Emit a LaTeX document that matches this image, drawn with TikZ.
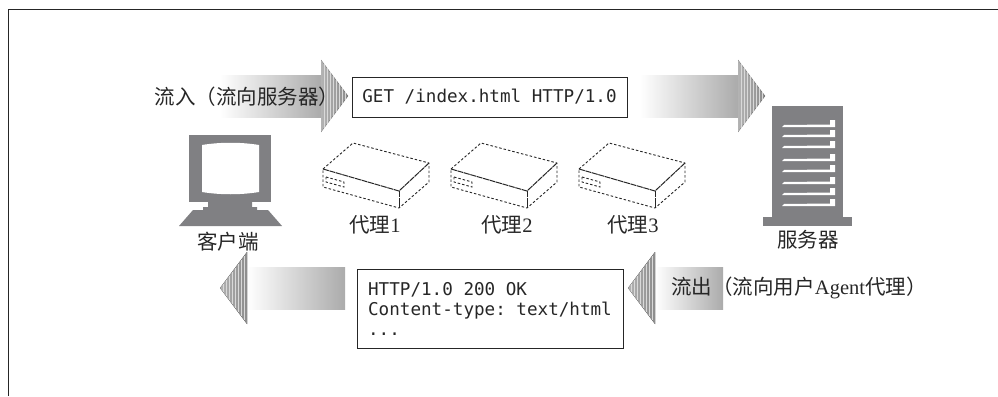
\documentclass[tikz,border=0pt]{standalone}
\usepackage{fontspec}
\setmainfont{Liberation Serif}
\setmonofont{DejaVu Sans Mono}
\newfontfamily\cjk{Noto Sans CJK SC}
\tikzset{
    flowbody/.style={left color=white, right color=black!33, draw=none},
    flowhead/.style={left color=black!30, right color=black!45, draw=none},
    stripe/.style={black!15, line width=0.6pt},
    label/.style={font=\fontsize{20.5}{22}\selectfont\color{black!85}, inner sep=0pt},
    msgbox/.style={draw=black!85, line width=1pt, inner sep=0pt, font=\ttfamily\fontsize{17.6}{20}\selectfont\color{black!85}},
    proxyline/.style={black!85, line width=0.9pt, dash pattern=on 2.5pt off 2pt},
    proxyedge/.style={black!85, line width=1pt, dash pattern=on 6pt off 0.7pt},
}
\definecolor{machine}{HTML}{808083}
\begin{document}
\begin{tikzpicture}[x=1pt,y=-1pt]
    \useasboundingbox (0,0) rectangle (998,396);
    \draw[black!85, line width=1pt] (8,396) -- (8,10) -- (998,10);

\begin{scope}[shift={(321,96)}]
    \fill[flowbody] (-101,-21) rectangle (0,21);
    \fill[flowhead] (0,-36) -- (27,0) -- (0,36) -- cycle;
    \foreach \x in {3,6,...,24} \draw[stripe] (\x,{-36+36*\x/27}) -- (\x,{36-36*\x/27});
\end{scope}
\begin{scope}[shift={(738,96)}]
    \fill[flowbody] (-98,-21) rectangle (0,21);
    \fill[flowhead] (0,-36) -- (27,0) -- (0,36) -- cycle;
    \foreach \x in {3,6,...,24} \draw[stripe] (\x,{-36+36*\x/27}) -- (\x,{36-36*\x/27});
\end{scope}
\begin{scope}[shift={(247,288)},xscale=-1]
    \fill[flowbody] (-98,-21) rectangle (0,21);
    \fill[flowhead] (0,-36) -- (27,0) -- (0,36) -- cycle;
    \foreach \x in {3,6,...,24} \draw[stripe] (\x,{-36+36*\x/27}) -- (\x,{36-36*\x/27});
\end{scope}
\begin{scope}[shift={(655,288)},xscale=-1]
    \fill[flowbody] (-68,-21) rectangle (0,21);
    \fill[flowhead] (0,-36) -- (27,0) -- (0,36) -- cycle;
    \foreach \x in {3,6,...,24} \draw[stripe] (\x,{-36+36*\x/27}) -- (\x,{36-36*\x/27});
\end{scope}

    \node[msgbox, minimum width=275pt, minimum height=40pt] (request) at (489.5,97) {GET /index.html HTTP/1.0};
    \node[msgbox, minimum width=266pt, minimum height=79pt, align=left] (response) at (490,308.5) {HTTP/1.0 200 OK\\Content-type: text/html\\...};

    \node[label] (inflow) at (247,97) {\cjk 流入（流向服务器）};
    \node[label] (outflow) at (799,288) {\cjk 流出（流向用户\rmfamily Agent\cjk 代理）};

    % client
    \fill[machine] (189,135) rectangle (271,202);
    \fill[white] (202,145) .. controls (220,142) and (241,142) .. (259,145) -- (259,192) .. controls (241,195) and (220,195) .. (202,192) -- cycle;
    \fill[machine] (208,202) -- (208,207) -- (203,207) -- (203,210) -- (193,210) -- (179,226) -- (282,226) -- (268,210) -- (257,210) -- (257,207) -- (252,207) -- (252,202) -- cycle;
    \node[label] (client) at (228,242) {\cjk 客户端};

    % server
    \fill[machine] (772,106) rectangle (843,217);
    \fill[machine] (763,217) rectangle (852,226);
    \foreach \y in {125,135,146,159,170,182,193,204}
        \fill[white] (782,\y+2) -- (784,\y) -- (830,\y-0.5) -- (830,\y-5) -- (835,\y-5) -- (835,\y+2) -- cycle;
    \node[label] (server) at (808,240) {\cjk 服务器};

    % proxies
\begin{scope}[shift={(0,0)}]
    \draw[proxyline] (323,169) -- (353,143) -- (429,163) -- (429,182) -- (399,208) -- (323,187) -- cycle;
    \draw[proxyline] (326,177) -- (344,182) -- (344,187) -- (326,182) -- cycle;
    \draw[proxyedge] (323,169) -- (399,191) -- (429,163);
    \draw[proxyedge] (399,191) -- (399,208);
\end{scope}
\begin{scope}[shift={(128,0)}]
    \draw[proxyline] (323,169) -- (353,143) -- (429,163) -- (429,182) -- (399,208) -- (323,187) -- cycle;
    \draw[proxyline] (326,177) -- (344,182) -- (344,187) -- (326,182) -- cycle;
    \draw[proxyedge] (323,169) -- (399,191) -- (429,163);
    \draw[proxyedge] (399,191) -- (399,208);
\end{scope}
\begin{scope}[shift={(256,0)}]
    \draw[proxyline] (323,169) -- (353,143) -- (429,163) -- (429,182) -- (399,208) -- (323,187) -- cycle;
    \draw[proxyline] (326,177) -- (344,182) -- (344,187) -- (326,182) -- cycle;
    \draw[proxyedge] (323,169) -- (399,191) -- (429,163);
    \draw[proxyedge] (399,191) -- (399,208);
\end{scope}
    \node[label] (proxya) at (375,225) {\cjk 代理\rmfamily 1};
    \node[label] (proxyb) at (507,225) {\cjk 代理\rmfamily 2};
    \node[label] (proxyc) at (633,225) {\cjk 代理\rmfamily 3};
\end{tikzpicture}
\end{document}
